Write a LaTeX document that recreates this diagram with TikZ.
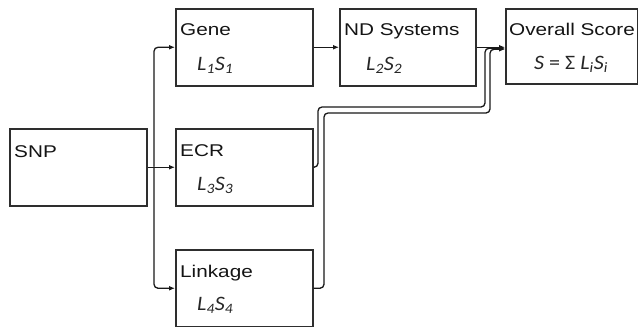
\documentclass[tikz,border=0pt]{standalone}
\usepackage{fontspec}
\setmainfont{Liberation Sans}
\newfontfamily\tfont[FakeStretch=1.22]{Liberation Sans}
\newfontfamily\ffont[FakeStretch=1.08]{Carlito}
\usetikzlibrary{arrows.meta}
\newcommand{\sbs}[1]{\textsubscript{#1}}
\begin{document}
\begin{tikzpicture}[x=1pt,y=-1pt,
  box/.style={draw=black!82,line width=1.5pt,inner sep=0pt,anchor=north west},
  ttl/.style={anchor=base west,inner sep=0pt,font=\tfont\fontsize{17}{20}\selectfont,text=black!92},
  frm/.style={anchor=base west,inner sep=0pt,font=\ffont\itshape\fontsize{20.5}{24}\selectfont,text=black!85},
  conn/.style={draw=black!90,line width=1.3pt,rounded corners=4pt},
  arr/.style={conn,-{Latex[length=6pt,width=5pt]}}]
\useasboundingbox (0,0) rectangle (638,327);
% boxes
\node[box,minimum width=137pt,minimum height=77pt] (snp) at (9,128) {};
\node[box,minimum width=137pt,minimum height=77pt] (gene) at (175,8) {};
\node[box,minimum width=136pt,minimum height=77pt] (nd) at (339,8) {};
\node[box,minimum width=132pt,minimum height=75pt] (ov) at (505,8) {};
\node[box,minimum width=137pt,minimum height=77pt] (ecr) at (175,128) {};
\node[box,minimum width=137pt,minimum height=77pt] (lnk) at (175,249) {};
% titles
\node[ttl] (tsnp) at (14,157) {SNP};
\node[ttl] (tgene) at (180,35) {Gene};
\node[ttl] (tnd) at (344,35) {ND Systems};
\node[ttl] (tov) at (509,35) {Overall Score};
\node[ttl] (tecr) at (180,156) {ECR};
\node[ttl] (tlnk) at (180,277) {Linkage};
% formulas
\node[frm] (fgene) at (197,70) {L\sbs{1}S\sbs{1}};
\node[frm] (fnd) at (366,70) {L\sbs{2}S\sbs{2}};
\node[frm] (fecr) at (197,190) {L\sbs{3}S\sbs{3}};
\node[frm] (flnk) at (197,310) {L\sbs{4}S\sbs{4}};
\node[frm,anchor=base] (fov) at (571,69) {S {\upshape=} {\upshape Σ} L\sbs{i}S\sbs{i}};
% connectors
\coordinate (j) at (154,166.5);
\draw[arr] (snp.east) -- (ecr.west);
\draw[arr] (j) |- (gene.west);
\draw[arr] (j) |- (lnk.west);
\draw[arr] (gene.east) -- (nd.west);
\coordinate (e1) at (318,107);
\coordinate (e2) at (485,107);
\coordinate (l1) at (324,113);
\coordinate (l2) at (490,113);
\draw[arr] (nd.east) -- (nd.east -| ov.west);
\draw[arr] (ecr.east) -| (e1) -- (e2) |- ([yshift=-1pt]nd.east -| ov.west);
\draw[arr] (lnk.east) -| (l1) -- (l2) |- ([yshift=-2pt]nd.east -| ov.west);
\end{tikzpicture}
\end{document}
